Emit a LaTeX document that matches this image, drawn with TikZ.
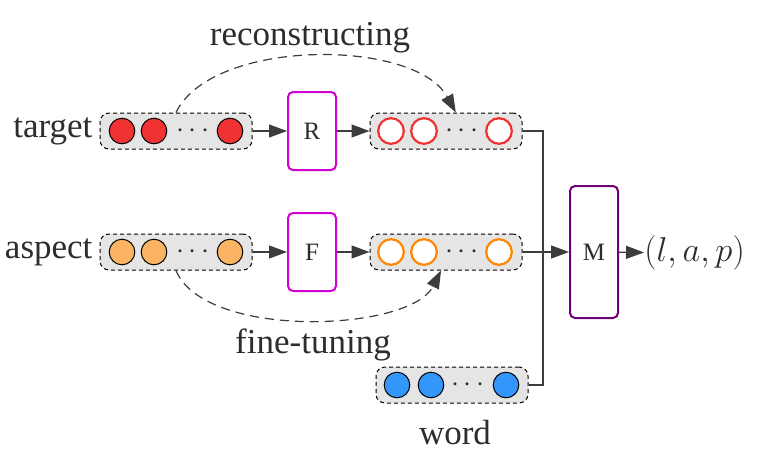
\documentclass[tikz,border=0pt]{standalone}
\usepackage{fontspec}
\setmainfont{Liberation Serif}
\usetikzlibrary{arrows.meta}

\definecolor{tgtred}{RGB}{240,50,50}
\definecolor{aspfill}{RGB}{250,180,100}
\definecolor{asporange}{RGB}{255,135,0}
\definecolor{wordblue}{RGB}{50,150,250}
\definecolor{boxmag}{RGB}{210,0,210}
\definecolor{boxpur}{RGB}{110,0,120}
\definecolor{linegray}{RGB}{60,60,60}
\definecolor{txtgray}{RGB}{45,45,45}

\begin{document}
\begin{tikzpicture}[x=0.5pt,y=-0.5pt,
    grp/.style={draw=black,dash pattern=on 2pt off 1.5pt,fill=black!10,rounded corners=4.5pt,
      minimum width=76pt,minimum height=18pt,line width=0.5pt},
    ball/.style={circle,draw=black,line width=0.5pt,minimum size=12.8pt,inner sep=0pt},
    ring/.style={circle,draw=#1,fill=white,line width=1.1pt,minimum size=12.8pt,inner sep=0pt},
    dots/.style={text=txtgray,inner sep=0pt,font=\fontsize{14}{16}\selectfont},
    unit/.style={draw=boxmag,line width=1pt,rounded corners=2.5pt,minimum width=24pt,
      minimum height=39pt,text=txtgray,font=\fontsize{12.5}{14}\selectfont},
    flow/.style={draw=linegray,line width=0.6pt,-{Triangle[length=9pt,width=6.5pt]}},
    lbl/.style={text=txtgray,font=\fontsize{17.5}{20}\selectfont}]
      \useasboundingbox (0,0) rectangle (764,455);

      % input groups
      \draw (176,131) node[grp](tgt) {};
      \draw (122,131) node[ball,fill=tgtred](t1) {};
      \draw (154,131) node[ball,fill=tgtred](t2) {};
      \draw (193,131) node[dots](t3) {$\cdots$};
      \draw (230,131) node[ball,fill=tgtred](t4) {};

      \draw (176,252) node[grp](asp) {};
      \draw (122,252) node[ball,fill=aspfill](a1) {};
      \draw (154,252) node[ball,fill=aspfill](a2) {};
      \draw (193,252) node[dots](a3) {$\cdots$};
      \draw (230,252) node[ball,fill=aspfill](a4) {};

      \draw (tgt.west) node[lbl,left](tgtlbl) {target};
      \draw (asp.west) node[lbl,left](asplbl) {aspect};

      % R and F
      \draw (312,131) node[unit](R) {R};
      \draw (312,252) node[unit](F) {F};

      % output groups
      \draw (446,131) node[grp](rec) {};
      \draw (391,131) node[ring=tgtred](r1) {};
      \draw (424,131) node[ring=tgtred](r2) {};
      \draw (462,131) node[dots](r3) {$\cdots$};
      \draw (499,131) node[ring=tgtred](r4) {};

      \draw (446,252) node[grp](ftn) {};
      \draw (391,252) node[ring=asporange](f1) {};
      \draw (424,252) node[ring=asporange](f2) {};
      \draw (462,252) node[dots](f3) {$\cdots$};
      \draw (499,252) node[ring=asporange](f4) {};

      \draw (452,385) node[grp](wrd) {};
      \draw (397,385) node[ball,fill=wordblue](w1) {};
      \draw (431,385) node[ball,fill=wordblue](w2) {};
      \draw (468,385) node[dots](w3) {$\cdots$};
      \draw (506,385) node[ball,fill=wordblue](w4) {};
      \draw (455,433) node[lbl](wrdlbl) {word};

      % M and result
      \draw (594,252) node[unit,draw=boxpur,minimum height=66pt](M) {M};
      \draw (644,253) node[anchor=west,inner sep=0pt,text=txtgray,font=\fontsize{18.8}{22}\selectfont](res) {$(l,a,p)$};

      \draw (tgt) edge[flow] (R);
      \draw (R) edge[flow] (rec);
      \draw (asp) edge[flow] (F);
      \draw (F) edge[flow] (ftn);
      \draw (ftn) edge[flow] (M);
      \draw (M) edge[flow] (res);

      \coordinate (join) at (543,252);
      \draw[linegray,line width=0.6pt] (rec.east) -| (join) |- (wrd.east);

      % dashed curves
      \draw[flow,dash pattern=on 4.5pt off 3pt] (tgt.north) .. controls (212,38) and (415,38) .. (rec.62);
      \draw[flow,dash pattern=on 4.5pt off 3pt] (asp.south) .. controls (205,340) and (410,332) .. (ftn.-105);
      \draw (310,38) node[lbl](reclbl) {reconstructing};
      \draw (313,345) node[lbl](ftnlbl) {fine-tuning};
    \end{tikzpicture}
\end{document}
